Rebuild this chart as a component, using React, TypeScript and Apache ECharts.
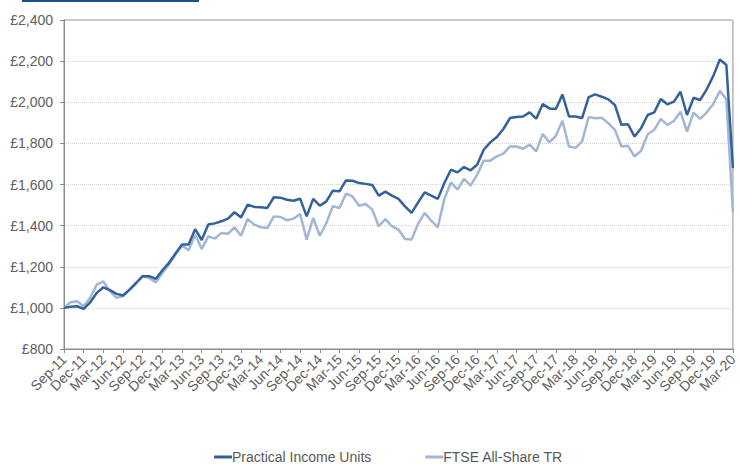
import React, { useEffect, useRef } from "react";
import * as echarts from "echarts";

const monthNames = ["Jan", "Feb", "Mar", "Apr", "May", "Jun", "Jul", "Aug", "Sep", "Oct", "Nov", "Dec"];
const startYear = 2011;
const startMonth = 8; // Sep
const monthCount = 103; // Sep-11 .. Mar-20

const categories: string[] = [];
for (let k = 0; k < monthCount; k++) {
  const m = (startMonth + k) % 12;
  const y = startYear + Math.floor((startMonth + k) / 12);
  categories.push(monthNames[m] + "-" + String(y % 100).padStart(2, "0"));
}

const practicalIncomeUnits = [
  1000, 1005, 1008, 995, 1027, 1073, 1100, 1086, 1068, 1060,
  1089, 1121, 1154, 1154, 1141, 1183, 1219, 1264, 1308, 1308,
  1383, 1330, 1405, 1411, 1421, 1434, 1465, 1440, 1502, 1491,
  1489, 1486, 1538, 1536, 1526, 1521, 1531, 1445, 1530, 1497,
  1518, 1570, 1567, 1620, 1618, 1607, 1603, 1598, 1546, 1565,
  1546, 1530, 1494, 1462, 1513, 1562, 1546, 1530, 1607, 1672,
  1659, 1685, 1669, 1696, 1769, 1805, 1831, 1870, 1923, 1928,
  1931, 1951, 1920, 1991, 1970, 1967, 2037, 1931, 1931, 1923,
  2025, 2038, 2027, 2014, 1987, 1890, 1893, 1833, 1874, 1938,
  1951, 2016, 1990, 2003, 2051, 1938, 2022, 2011, 2063, 2127,
  2208, 2181, 1680,
];

const ftseAllShareTR = [
  1000, 1027, 1032, 1008, 1049, 1113, 1129, 1081, 1049, 1057,
  1089, 1121, 1154, 1146, 1124, 1170, 1210, 1259, 1303, 1280,
  1356, 1287, 1348, 1337, 1364, 1360, 1392, 1351, 1432, 1405,
  1392, 1388, 1445, 1442, 1426, 1434, 1457, 1332, 1437, 1351,
  1413, 1494, 1486, 1555, 1542, 1497, 1505, 1478, 1397, 1432,
  1397, 1381, 1335, 1332, 1410, 1462, 1424, 1392, 1530, 1610,
  1575, 1627, 1595, 1648, 1716, 1716, 1737, 1750, 1785, 1785,
  1774, 1794, 1761, 1846, 1805, 1837, 1910, 1785, 1778, 1810,
  1928, 1922, 1925, 1898, 1866, 1785, 1788, 1736, 1764, 1844,
  1866, 1919, 1890, 1909, 1954, 1857, 1950, 1919, 1951, 1990,
  2056, 2014, 1465,
];

const seriesNames = ["Practical Income Units", "FTSE All-Share TR"];
const yMin = 800;
const yMax = 2400;
const yStep = 200;

export default function App() {
  const ref = useRef<HTMLDivElement>(null);
  useEffect(() => {
    if (!ref.current) return;
    const chart = echarts.init(ref.current, undefined, { renderer: "svg" });
    const font = "'Liberation Sans', Arial, sans-serif";
    chart.setOption({
      animation: false,
      backgroundColor: "#ffffff",
      textStyle: { fontFamily: font },
      graphic: [
        {
          type: "rect",
          left: 22,
          top: 0,
          shape: { width: 177, height: 2 },
          style: { fill: "#1d4f8b" },
        },
      ],
      legend: {
        left: 214,
        top: 450,
        padding: 0,
        icon: "rect",
        itemWidth: 18,
        itemHeight: 3,
        itemGap: 54,
        data: seriesNames,
        textStyle: {
          color: "#595959",
          fontSize: 14,
          lineHeight: 14,
          fontFamily: font,
          padding: [0, 0, 0, -5],
        },
      },
      grid: {
        left: 64,
        right: 1,
        top: 20,
        bottom: 115,
        show: true,
        borderColor: "#8c8c8c",
        borderWidth: 1,
      },
      xAxis: {
        type: "category",
        data: categories,
        boundaryGap: false,
        axisLine: { lineStyle: { color: "#8c8c8c" } },
        axisTick: { show: true, interval: 2, length: 4, lineStyle: { color: "#8c8c8c" } },
        axisLabel: {
          interval: 2,
          rotate: 45,
          color: "#606060",
          fontSize: 14,
          fontFamily: font,
          margin: 8,
        },
        splitLine: { show: false },
      },
      yAxis: {
        type: "value",
        min: yMin,
        max: yMax,
        interval: yStep,
        axisLine: { show: true, lineStyle: { color: "#8c8c8c" } },
        axisTick: { show: true, length: 4, lineStyle: { color: "#8c8c8c" } },
        axisLabel: {
          color: "#606060",
          fontSize: 14,
          fontFamily: font,
          margin: 11,
          formatter: (v: number) => "£" + v.toLocaleString("en-GB"),
        },
        splitLine: { show: true, lineStyle: { color: "#d4d4d4", type: "dotted", width: 1 } },
      },
      series: [
        {
          name: seriesNames[0],
          type: "line",
          data: practicalIncomeUnits,
          showSymbol: false,
          symbol: "none",
          lineStyle: { color: "#33619c", width: 2.5 },
          itemStyle: { color: "#33619c" },
          z: 3,
        },
        {
          name: seriesNames[1],
          type: "line",
          data: ftseAllShareTR,
          showSymbol: false,
          symbol: "none",
          lineStyle: { color: "#a2b6d6", width: 2.5 },
          itemStyle: { color: "#a2b6d6" },
          z: 2,
        },
      ],
    });
    return () => chart.dispose();
  }, []);
  return (
    <div
      ref={ref}
      style={{ position: "fixed", left: 0, top: 0, width: 740, height: 464, background: "#fff" }}
    />
  );
}
